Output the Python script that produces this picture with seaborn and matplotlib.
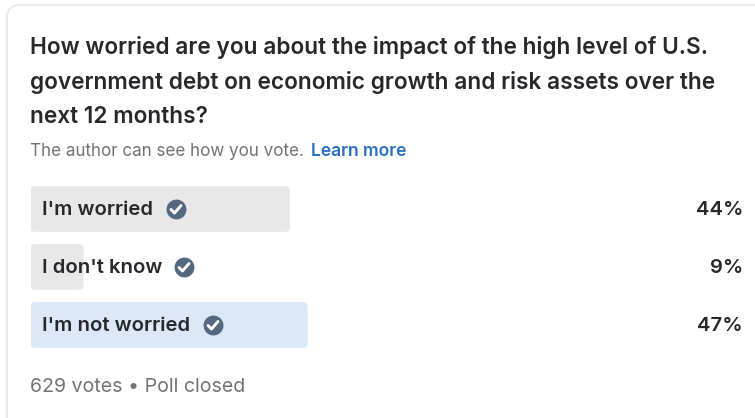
import matplotlib
matplotlib.use("Agg")
import matplotlib.pyplot as plt
from matplotlib.patches import FancyBboxPatch
import pandas as pd
import seaborn as sns

# Poll content
question = [
    "How worried are you about the impact of the high level of U.S.",
    "government debt on economic growth and risk assets over the",
    "next 12 months?",
]
options = ["I'm worried", "I don't know", "I'm not worried"]
shares = [44, 9, 47]
bar_colors = ["#e8e8e8", "#e8e8e8", "#dce8f8"]
footer = "629 votes \u2022 Poll closed"

W, H = 755, 418
sns.set_theme(style="white")
plt.rcParams["font.family"] = ["Inter", "DejaVu Sans"]

fig = plt.figure(figsize=(W / 100, H / 100), dpi=100, facecolor="white")

# Pixel-addressed layer for the card and text
page = fig.add_axes([0, 0, 1, 1], zorder=1)
page.set_xlim(0, W)
page.set_ylim(H, 0)
page.axis("off")
page.add_patch(FancyBboxPatch((7, 5), 800, 440, boxstyle="round,pad=0,rounding_size=13",
                              fc="white", ec="#e9e9e9", lw=1.4))

# Bar layer, one category band per option
left, right, top, bottom = 30.5, 620, 180, 354
bars_ax = fig.add_axes([left / W, 1 - bottom / H, (right - left) / W, (bottom - top) / H], zorder=2)
bars_ax.patch.set_alpha(0)
poll = pd.DataFrame({"option": options, "share": shares})
sns.barplot(data=poll, x="share", y="option", hue="option", palette=bar_colors,
            width=0.79, legend=False, dodge=False, saturation=1, ax=bars_ax)
bars_ax.set_xlim(0, 100)
bars_ax.set_ylim(2.5, -0.5)
bars_ax.axis("off")

# Swap the square bars for rounded ones of the same geometry
for patch in list(bars_ax.patches):
    x0, y0, w, h = patch.get_x(), patch.get_y(), patch.get_width(), patch.get_height()
    color = patch.get_facecolor()
    patch.remove()
    rounded = FancyBboxPatch((x0, y0), w, h, boxstyle="round,pad=0,rounding_size=1",
                             fc=color, ec="none", mutation_aspect=0.055)
    bars_ax.add_patch(rounded)

# Text layer above the bars
overlay = fig.add_axes([0, 0, 1, 1], zorder=3)
overlay.set_xlim(0, W)
overlay.set_ylim(H, 0)
overlay.axis("off")

for line, y in zip(question, [47.5, 82.5, 117]):
    overlay.text(30, y, line, fontsize=16.3, fontweight="semibold", color="#26282b", va="center")

overlay.text(30, 151, "The author can see how you vote.", fontsize=12.25, color="#737373", va="center")
overlay.text(311, 151, "Learn more", fontsize=12.55, fontweight="semibold", color="#2a6fc4", va="center")

icon_x = [176, 184, 213]
centers = [209, 267, 325]
for name, share, cx, cy in zip(options, shares, icon_x, centers):
    overlay.text(42, cy + 1, name, fontsize=14.6, fontweight="semibold", color="#26282b", va="center")
    overlay.text(743, cy + 1, f"{share}%", fontsize=14.6, fontweight="semibold", color="#26282b",
                 va="center", ha="right")
    overlay.scatter([cx], [cy], s=205, color="#56687f", linewidths=0, zorder=4)
    overlay.plot([cx - 5, cx - 1.5, cx + 5], [cy + 0.5, cy + 4, cy - 3.5], color="white", lw=2.1,
                 solid_capstyle="round", solid_joinstyle="round", zorder=5)

overlay.text(30, 386.5, footer, fontsize=14.1, color="#737373", va="center")

fig.savefig("out.png", dpi=100, facecolor="white")
